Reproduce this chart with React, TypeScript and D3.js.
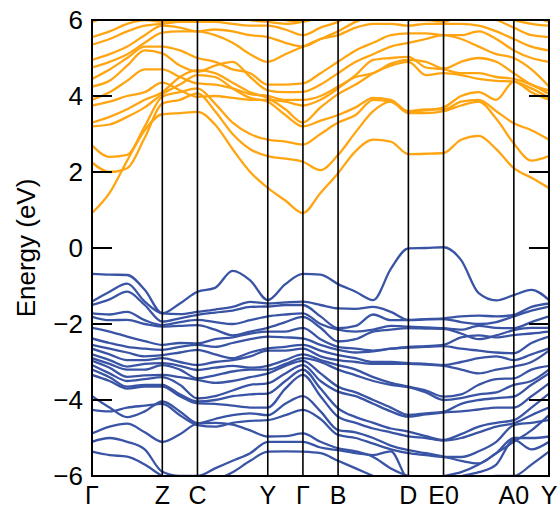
import React, { useRef, useEffect } from "react";
import * as d3 from "d3";

// k-path sample positions (distance along path, arbitrary units)
const kGrid = [0, 0.5, 1, 1.5, 2, 2.5, 3, 3.5, 4, 4.5, 5, 5.5, 6, 6.5, 7, 7.5, 8, 8.5, 9, 9.5, 10, 10.5, 11, 11.5, 12, 12.5, 13];

// high-symmetry points
const kTicks = [0, 2, 3, 5, 6, 7, 9, 10, 12, 13];
const kLabels = ["Γ", "Z", "C", "Y", "Γ", "B", "D", "E0", "A0", "Y"];

const yTicks = [-6, -4, -2, 0, 2, 4, 6];

// conduction bands (eV)
const conductionBands = [
  [0.92, 1.45, 2.3, 3.1, 3.52, 3.55, 3.58, 3.25, 2.6, 2.0, 1.58, 1.25, 0.92, 1.45, 1.97, 2.55, 2.85, 2.8, 2.47, 2.48, 2.5, 2.85, 2.95, 2.6, 2.1, 1.85, 1.58],
  [2.25, 2.0, 2.1, 2.9, 3.8, 3.9, 4.07, 3.6, 3.0, 2.6, 2.42, 2.35, 2.27, 2.05, 2.45, 3.05, 3.6, 3.85, 3.55, 3.55, 3.6, 3.75, 3.85, 3.4, 2.75, 2.3, 2.42],
  [2.7, 2.4, 2.45, 3.2, 3.98, 4.1, 4.2, 3.8, 3.3, 3.0, 2.85, 2.8, 2.72, 3.0, 3.3, 3.5, 3.9, 3.85, 3.6, 3.65, 3.65, 3.85, 3.9, 3.6, 3.28, 3.1, 2.85],
  [3.2, 3.25, 3.45, 3.7, 4.05, 4.3, 4.55, 4.5, 4.2, 3.95, 3.85, 3.5, 3.2, 3.35, 3.5, 3.7, 3.95, 3.9, 3.59, 3.62, 3.7, 4.0, 4.1, 3.9, 4.38, 4.1, 3.9],
  [3.3, 3.45, 3.65, 3.9, 4.1, 4.5, 4.68, 4.6, 4.35, 4.1, 3.95, 3.65, 3.3, 3.7, 4.05, 4.3, 4.6, 4.8, 4.9, 4.55, 4.6, 4.55, 4.45, 4.4, 4.38, 4.2, 3.95],
  [3.75, 3.85, 4.0, 4.1, 4.35, 4.15, 3.98, 4.0, 3.95, 3.9, 3.9, 3.85, 3.75, 3.9, 4.2, 4.55, 4.95, 5.0, 5.03, 4.75, 4.7, 4.6, 4.6, 4.5, 4.45, 4.3, 4.05],
  [3.9, 4.1, 4.4, 4.7, 4.7, 4.5, 4.33, 4.3, 4.2, 4.05, 4.0, 3.9, 3.9, 4.0, 4.25, 4.5, 4.6, 4.85, 4.95, 4.9, 4.72, 4.9, 5.0, 4.9, 4.6, 4.3, 4.15],
  [4.25, 4.4, 4.8, 5.2, 5.12, 4.8, 4.64, 4.8, 4.9, 4.5, 4.15, 4.1, 4.11, 4.3, 4.6, 4.9, 5.1, 5.3, 5.4, 5.5, 5.6, 5.5, 5.3, 5.1, 5.0, 4.7, 4.25],
  [4.45, 4.7, 5.0, 5.3, 5.3, 5.2, 5.0, 4.9, 4.7, 4.6, 4.3, 4.3, 4.33, 4.6, 4.9, 5.2, 5.4, 5.6, 5.65, 5.65, 5.6, 5.6, 5.7, 5.5, 5.2, 5.0, 4.9],
  [4.75, 4.9, 5.1, 5.4, 5.67, 5.7, 5.7, 5.6, 5.4, 5.1, 4.9, 5.1, 5.3, 5.5, 5.6, 5.8, 5.9, 5.9, 5.85, 5.9, 5.9, 5.9, 5.85, 5.7, 5.5, 5.3, 5.2],
  [4.95, 5.1, 5.3, 5.6, 5.85, 5.8, 5.7, 5.75, 5.7, 5.6, 5.55, 5.4, 5.3, 5.5, 5.7, 5.95, 6.1, 6.1, 6.0, 6.0, 5.95, 6.1, 6.1, 6.0, 5.8, 5.6, 5.55],
  [5.35, 5.5, 5.7, 5.85, 5.9, 5.95, 5.95, 5.95, 5.9, 5.85, 5.85, 5.75, 5.6, 5.8, 5.95, 6.2, 6.2, 6.2, 6.2, 6.2, 6.2, 6.2, 6.2, 6.2, 6.0, 5.9, 5.85],
  [5.55, 5.7, 5.9, 6.0, 5.95, 6.0, 6.0, 6.1, 6.1, 6.0, 5.95, 5.9, 5.96, 6.1, 6.2, 6.3, 6.3, 6.3, 6.3, 6.3, 6.3, 6.3, 6.3, 6.3, 6.2, 6.1, 5.95],
  [5.95, 6.1, 6.2, 6.3, 6.2, 6.2, 6.2, 6.2, 6.3, 6.2, 6.1, 6.0, 5.96, 6.1, 6.3, 6.4, 6.4, 6.4, 6.4, 6.4, 6.4, 6.4, 6.4, 6.4, 6.3, 6.2, 6.1],
];

// valence bands (eV)
const valenceBands = [
  [-0.68, -0.7, -0.71, -1.1, -1.72, -1.46, -1.15, -1.05, -0.6, -0.85, -1.37, -0.95, -0.68, -0.7, -0.95, -1.15, -1.37, -0.55, -0.01, 0.0, 0.02, -0.32, -1.19, -1.38, -1.24, -1.1, -1.37],
  [-1.41, -1.15, -0.94, -1.41, -1.72, -1.74, -1.68, -1.62, -1.55, -1.42, -1.46, -1.43, -1.41, -1.5, -1.59, -1.6, -1.55, -1.68, -1.89, -1.87, -1.85, -1.8, -1.78, -1.8, -1.76, -1.55, -1.46],
  [-1.5, -1.35, -1.15, -1.5, -1.94, -1.85, -1.76, -1.7, -1.65, -1.55, -1.54, -1.5, -1.5, -1.8, -2.11, -2.05, -1.75, -1.9, -1.9, -1.88, -1.87, -1.95, -2.0, -1.95, -1.8, -1.65, -1.54],
  [-1.72, -1.75, -1.68, -1.9, -2.03, -1.95, -1.89, -1.95, -2.0, -1.9, -1.8, -1.75, -1.72, -2.0, -2.15, -2.2, -2.15, -2.05, -2.07, -2.09, -2.11, -2.15, -2.05, -2.1, -2.11, -1.95, -1.8],
  [-1.81, -1.9, -1.89, -2.0, -2.07, -2.05, -2.03, -2.15, -2.3, -2.2, -2.1, -1.95, -1.81, -2.1, -2.46, -2.4, -2.2, -2.15, -2.11, -2.12, -2.13, -2.25, -2.4, -2.3, -2.16, -2.1, -2.1],
  [-2.1, -2.2, -2.33, -2.45, -2.55, -2.5, -2.51, -2.4, -2.35, -2.25, -2.2, -2.2, -2.1, -2.4, -2.6, -2.65, -2.7, -2.65, -2.6, -2.58, -2.55, -2.35, -2.3, -2.35, -2.29, -2.25, -2.2],
  [-2.38, -2.5, -2.6, -2.65, -2.68, -2.6, -2.55, -2.6, -2.5, -2.4, -2.33, -2.35, -2.38, -2.55, -2.68, -2.75, -2.72, -2.65, -2.62, -2.6, -2.58, -2.65, -2.7, -2.75, -2.77, -2.5, -2.33],
  [-2.55, -2.65, -2.75, -2.85, -2.82, -2.75, -2.68, -2.8, -2.9, -2.75, -2.64, -2.6, -2.55, -2.7, -2.82, -2.9, -3.0, -3.0, -3.03, -3.05, -3.08, -3.0, -2.9, -2.85, -2.95, -2.8, -2.64],
  [-2.65, -2.8, -2.95, -2.95, -2.9, -3.0, -3.08, -3.0, -2.95, -2.85, -2.7, -2.7, -2.65, -2.85, -2.95, -3.0, -3.05, -3.05, -3.05, -3.07, -3.1, -3.2, -3.3, -3.2, -3.12, -3.0, -2.7],
  [-2.8, -2.95, -3.12, -3.05, -3.03, -3.1, -3.21, -3.15, -3.1, -3.15, -3.1, -2.95, -2.8, -2.95, -3.08, -3.2, -3.4, -3.55, -3.65, -3.75, -3.91, -3.85, -3.6, -3.45, -3.43, -3.2, -3.1],
  [-2.9, -3.05, -3.2, -3.2, -3.08, -3.2, -3.43, -3.35, -3.25, -3.2, -3.2, -3.05, -2.9, -3.0, -3.2, -3.35, -3.5, -3.6, -3.66, -3.8, -4.0, -3.95, -3.85, -3.8, -3.6, -3.5, -3.2],
  [-2.97, -3.15, -3.39, -3.35, -3.34, -3.4, -3.47, -3.55, -3.5, -3.4, -3.3, -3.1, -2.97, -3.3, -3.65, -3.8, -4.0, -4.2, -4.39, -4.35, -4.31, -4.1, -4.0, -3.95, -3.91, -3.6, -3.3],
  [-3.08, -3.3, -3.5, -3.45, -3.4, -3.6, -3.96, -3.9, -3.75, -3.6, -3.56, -3.3, -3.08, -3.5, -3.78, -3.9, -4.1, -4.3, -4.44, -4.38, -4.33, -4.3, -4.25, -4.2, -4.2, -3.9, -3.56],
  [-3.2, -3.4, -3.65, -3.6, -3.6, -3.85, -4.04, -4.0, -3.9, -3.85, -3.83, -3.5, -3.2, -3.7, -4.22, -4.45, -4.6, -4.75, -4.83, -4.95, -5.05, -4.9, -4.7, -4.6, -4.53, -4.2, -3.83],
  [-3.34, -3.5, -3.7, -3.65, -3.65, -3.9, -4.09, -4.1, -4.15, -4.2, -4.2, -3.7, -3.34, -3.9, -4.44, -4.6, -4.75, -4.85, -4.96, -5.0, -5.07, -5.0, -4.85, -4.7, -4.61, -4.4, -4.2],
  [-3.9, -4.2, -4.45, -4.3, -4.04, -4.3, -4.61, -4.5, -4.4, -4.35, -4.4, -4.1, -3.9, -4.3, -4.79, -4.85, -5.0, -5.2, -5.32, -5.4, -5.49, -5.6, -5.67, -5.4, -5.1, -4.8, -4.4],
  [-4.26, -4.3, -4.2, -4.15, -4.1, -4.4, -4.66, -4.7, -4.6, -4.55, -4.53, -4.4, -4.26, -4.5, -4.92, -5.0, -5.15, -5.3, -5.4, -5.45, -5.5, -5.5, -5.35, -5.1, -4.66, -4.6, -4.53],
  [-4.88, -4.7, -4.62, -4.85, -5.1, -4.9, -4.62, -4.6, -4.65, -4.8, -4.96, -4.95, -4.88, -5.1, -5.27, -5.35, -5.5, -5.8, -6.0, -6.1, -6.0, -5.9, -5.7, -5.4, -5.0, -5.0, -4.96],
  [-5.1, -5.0, -5.1, -5.3, -5.89, -6.0, -6.0, -5.8, -5.6, -5.4, -5.1, -5.1, -5.1, -5.25, -5.32, -5.4, -5.45, -5.35, -6.1, -6.2, -6.1, -6.0, -5.9, -5.7, -5.05, -5.3, -5.1],
  [-5.36, -5.45, -5.49, -5.7, -6.0, -6.2, -6.2, -6.1, -5.9, -5.6, -5.36, -5.35, -5.36, -5.4, -5.6, -5.8, -6.0, -6.2, -6.2, -6.3, -6.3, -6.2, -6.1, -6.0, -6.0, -5.7, -5.36],
];

const W = 558;
const H = 508;
const margin = { top: 20, right: 9, bottom: 32, left: 92 };

const BandStructure = () => {
  const svgRef = useRef<SVGSVGElement>(null);

  useEffect(() => {
    const svg = d3.select(svgRef.current);
    svg.selectAll("*").remove();

    const x0 = margin.left;
    const x1 = W - margin.right;
    const y0 = margin.top;
    const y1 = H - margin.bottom;

    const x = d3.scaleLinear().domain([0, 13]).range([x0, x1]);
    const y = d3.scaleLinear().domain([-6, 6]).range([y1, y0]);

    svg
      .append("defs")
      .append("clipPath")
      .attr("id", "plot-clip")
      .append("rect")
      .attr("x", x0)
      .attr("y", y0)
      .attr("width", x1 - x0)
      .attr("height", y1 - y0);

    const line = d3
      .line<number>()
      .x((d, i) => x(kGrid[i]))
      .y((d) => y(d))
      .curve(d3.curveMonotoneX);

    const bands = svg.append("g").attr("clip-path", "url(#plot-clip)");

    bands
      .selectAll("path.vb")
      .data(valenceBands)
      .join("path")
      .attr("class", "vb")
      .attr("d", (d) => line(d))
      .attr("fill", "none")
      .attr("stroke", "#3a54a5")
      .attr("stroke-width", 2.3);

    bands
      .selectAll("path.cb")
      .data(conductionBands)
      .join("path")
      .attr("class", "cb")
      .attr("d", (d) => line(d))
      .attr("fill", "none")
      .attr("stroke", "#ffa511")
      .attr("stroke-width", 2.3);

    // high-symmetry lines
    svg
      .append("g")
      .selectAll("line")
      .data(kTicks)
      .join("line")
      .attr("x1", (d) => x(d))
      .attr("x2", (d) => x(d))
      .attr("y1", y0)
      .attr("y2", y1)
      .attr("stroke", "#000")
      .attr("stroke-width", 1.6);

    // y ticks: left and right, inward
    const tickLen = 20;
    const ticks = svg.append("g");
    ticks
      .selectAll("line.l")
      .data(yTicks)
      .join("line")
      .attr("class", "l")
      .attr("x1", x0)
      .attr("x2", x0 + tickLen)
      .attr("y1", (d) => y(d))
      .attr("y2", (d) => y(d))
      .attr("stroke", "#000")
      .attr("stroke-width", 2);
    ticks
      .selectAll("line.r")
      .data(yTicks)
      .join("line")
      .attr("class", "r")
      .attr("x1", x1 - tickLen)
      .attr("x2", x1)
      .attr("y1", (d) => y(d))
      .attr("y2", (d) => y(d))
      .attr("stroke", "#000")
      .attr("stroke-width", 2);

    svg
      .append("rect")
      .attr("x", x0)
      .attr("y", y0)
      .attr("width", x1 - x0)
      .attr("height", y1 - y0)
      .attr("fill", "none")
      .attr("stroke", "#000")
      .attr("stroke-width", 2);

    const font = "'Liberation Sans', Arial, sans-serif";

    svg
      .append("g")
      .selectAll("text")
      .data(yTicks)
      .join("text")
      .attr("x", x0 - 9)
      .attr("y", (d) => y(d))
      .attr("dy", "0.36em")
      .attr("text-anchor", "end")
      .attr("font-family", font)
      .attr("font-size", 26)
      .text((d) => (d < 0 ? "\u2212" + Math.abs(d) : String(d)));

    svg
      .append("g")
      .selectAll("text")
      .data(kTicks)
      .join("text")
      .attr("x", (d) => x(d))
      .attr("y", y1 + 28)
      .attr("text-anchor", "middle")
      .attr("font-family", font)
      .attr("font-size", 25)
      .text((d, i) => kLabels[i]);

    svg
      .append("text")
      .attr("transform", `translate(35,${(y0 + y1) / 2}) rotate(-90)`)
      .attr("text-anchor", "middle")
      .attr("font-family", font)
      .attr("font-size", 26)
      .text("Energy (eV)");
  }, []);

  return (
    <svg
      ref={svgRef}
      width={W}
      height={H}
      style={{ position: "absolute", left: 0, top: 0, background: "#fff" }}
    ></svg>
  );
};

export default function App() {
  return <BandStructure />;
}
